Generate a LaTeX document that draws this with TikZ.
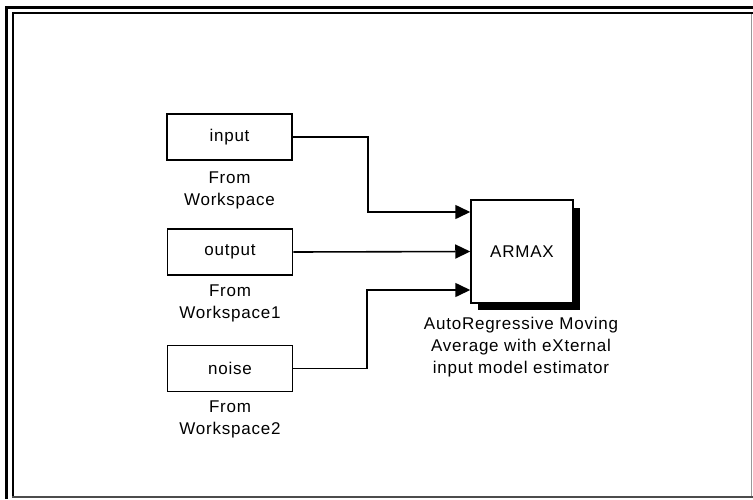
\documentclass[tikz,border=0pt]{standalone}
\usepackage{fontspec}
\setmainfont{Liberation Sans}[LetterSpace=4.5]
\usetikzlibrary{arrows.meta}
\begin{document}
\begin{tikzpicture}[x=1pt,y=-1pt,
  blk/.style={draw, line width=1.5pt, fill=white, minimum width=125pt, minimum height=46pt, inner sep=0pt, font=\fontsize{17}{21}\selectfont},
  captxt/.style={align=center, inner sep=0pt, font=\fontsize{17}{22}\selectfont},
  wire/.style={line width=1.6pt, -{Triangle[length=15pt,width=14pt]}}]
\useasboundingbox (0,0) rectangle (753,499);
% frame
\draw[line width=3pt] (6.5,499) -- (6.5,7) -- (753,7);
\draw[line width=2pt] (12.5,497) -- (12.5,13) -- (753,13);
\draw[line width=2pt, black!70] (12,496.5) -- (753,496.5);
\draw[line width=1pt, black!40] (751.5,14) -- (751.5,496);
% source blocks
\node[blk] (in) at (229.5,137) {input};
\node[captxt] (inc) at (229.5,190) {From\\Workspace};
\node[blk] (out) at (230,252) {output};
\node[captxt] (outc) at (230,303) {From\\Workspace1};
\node[blk] (no) at (230,368.5) {noise};
\node[captxt] (noc) at (230,419) {From\\Workspace2};
% ARMAX block with shadow
\fill (478,208) rectangle (580,310);
\node[draw, line width=1.5pt, fill=white, minimum width=102pt, minimum height=103pt, inner sep=0pt, font=\fontsize{17}{21}\selectfont] (armax) at (522,251.5) {\raisebox{-4pt}{ARMAX}};
\node[captxt] (armaxc) at (521,347) {AutoRegressive Moving\\Average with eXternal\\input model estimator};
% ports
\coordinate (p1) at (armax.west |- 0,212);
\coordinate (p2) at (armax.west);
\coordinate (p3) at (armax.west |- 0,290);
% wires
\draw[wire] (in.east) -- ++(75,0) |- (p1);
\draw[wire] (out.east) -- (p2);
\draw[wire] (no.east) -- ++(74,0) |- (p3);
\end{tikzpicture}
\end{document}
